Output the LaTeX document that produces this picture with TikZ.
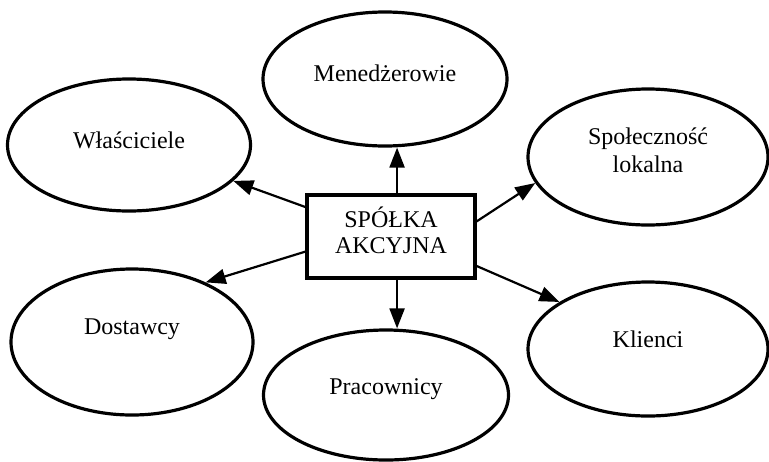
\documentclass[tikz,border=0pt]{standalone}
\usepackage{fontspec}
\setmainfont{Liberation Serif}
\usetikzlibrary{shapes.geometric,arrows.meta}

\begin{document}
\begin{tikzpicture}[x=.5pt,y=-.5pt,>={Triangle[length=10pt,width=7.5pt]},
	  party/.style={draw,ellipse,line width=1.6pt,inner sep=0pt,align=center,
	    font=\fontsize{12}{14}\selectfont},
	  firm/.style={draw,rectangle,line width=1.6pt,minimum width=84pt,
	    minimum height=41.5pt,align=center,font=\fontsize{12}{13}\selectfont},
	  link/.style={->,line width=1.1pt}]
	  \useasboundingbox (0,0) rectangle (769,461);
	  % centre
	  \node[firm,text depth=6pt] (spolka) at (391,236.5) {SPÓŁKA\\AKCYJNA};
	  % stakeholders
	  \node[party,minimum width=122pt,minimum height=67pt,text depth=6pt]
	  (men) at (385,79) {Menedżerowie};
	  \node[party,minimum width=121.5pt,minimum height=66pt,text depth=5pt]
	  (wla) at (129,145) {Właściciele};
	  \node[party,minimum width=120pt,minimum height=68pt,text depth=7pt]
	  (spo) at (648,157) {Społeczność\\lokalna};
	  \node[party,minimum width=121pt,minimum height=73pt,text depth=15pt]
	  (dos) at (132,342) {Dostawcy};
	  \node[party,minimum width=122.5pt,minimum height=65pt,text depth=8pt]
	  (pra) at (386,395) {Pracownicy};
	  \node[party,minimum width=120pt,minimum height=67pt,text depth=9.5pt]
	  (kli) at (648,349) {Klienci};
	  % arrows
	  \draw[link](spolka.82) -- (spolka.82 |- men.south);
	  \draw[link](spolka.278) -- (spolka.278 |- pra.north);
	  \draw[link](spolka.161) -- (wla.341);
	  \draw[link](spolka.190) -- (dos.39);
	  \draw[link](spolka.10) -- (spo.193);
	  \draw[link](spolka.341) -- (kli.152);
	\end{tikzpicture}
\end{document}
